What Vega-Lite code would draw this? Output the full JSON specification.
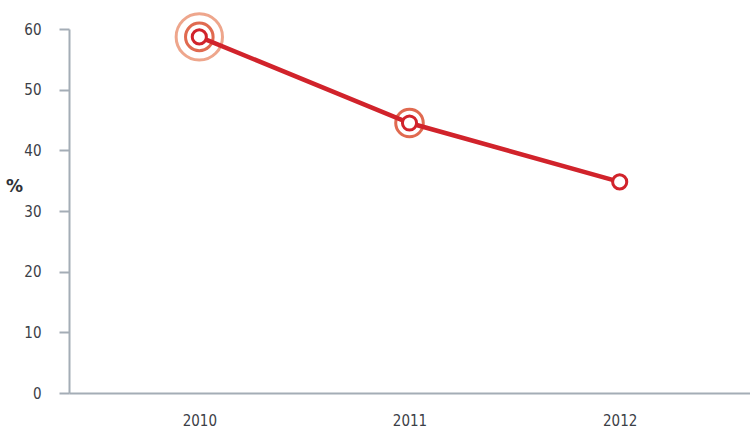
{
  "$schema": "https://vega.github.io/schema/vega-lite/v6.json",
  "width": 681,
  "height": 364,
  "autosize": "none",
  "padding": {"left": 69, "top": 29, "right": 0, "bottom": 37},
  "background": "white",
  "view": {"stroke": null},
  "data": {
    "values": [
      {"year": "2010", "pct": 58.7, "emphasis": 3},
      {"year": "2011", "pct": 44.5, "emphasis": 2},
      {"year": "2012", "pct": 34.8, "emphasis": 1}
    ]
  },
  "encoding": {
    "x": {
      "field": "year",
      "type": "ordinal",
      "scale": {"type": "point", "padding": 0.62},
      "axis": {
        "title": null,
        "labelAngle": 0,
        "ticks": false,
        "domainColor": "#a4adb6",
        "domainWidth": 2,
        "labelPadding": 20,
        "labelFont": "DejaVu Sans Condensed, Roboto, sans-serif",
        "labelFontSize": 15,
        "labelColor": "#3b4047"
      }
    },
    "y": {
      "field": "pct",
      "type": "quantitative",
      "scale": {"domain": [0, 60], "nice": false, "zero": true},
      "axis": {
        "values": [0, 10, 20, 30, 40, 50, 60],
        "grid": false,
        "title": "%",
        "titleAngle": 0,
        "titleX": -55,
        "titleY": 166,
        "titleAlign": "center",
        "titleFont": "DejaVu Sans, sans-serif",
        "titleFontSize": 17,
        "titleFontWeight": "bold",
        "titleColor": "#2f3338",
        "tickSize": 10,
        "tickColor": "#a4adb6",
        "tickWidth": 2,
        "domainColor": "#a4adb6",
        "domainWidth": 2,
        "labelPadding": 18,
        "labelFont": "DejaVu Sans Condensed, Roboto, sans-serif",
        "labelFontSize": 15,
        "labelColor": "#3b4047"
      }
    }
  },
  "layer": [
    {
      "transform": [{"filter": "datum.emphasis >= 3"}],
      "mark": {"type": "point", "shape": "circle", "filled": false, "size": 2150, "stroke": "#eea68c", "strokeWidth": 3, "opacity": 1}
    },
    {
      "transform": [{"filter": "datum.emphasis >= 2"}],
      "mark": {"type": "point", "shape": "circle", "filled": false, "size": 760, "stroke": "#e06a50", "strokeWidth": 3, "opacity": 1}
    },
    {
      "mark": {"type": "line", "color": "#d1232b", "strokeWidth": 4.5}
    },
    {
      "mark": {"type": "point", "shape": "circle", "filled": true, "size": 200, "fill": "white", "stroke": "#d1232b", "strokeWidth": 3, "opacity": 1}
    }
  ]
}
